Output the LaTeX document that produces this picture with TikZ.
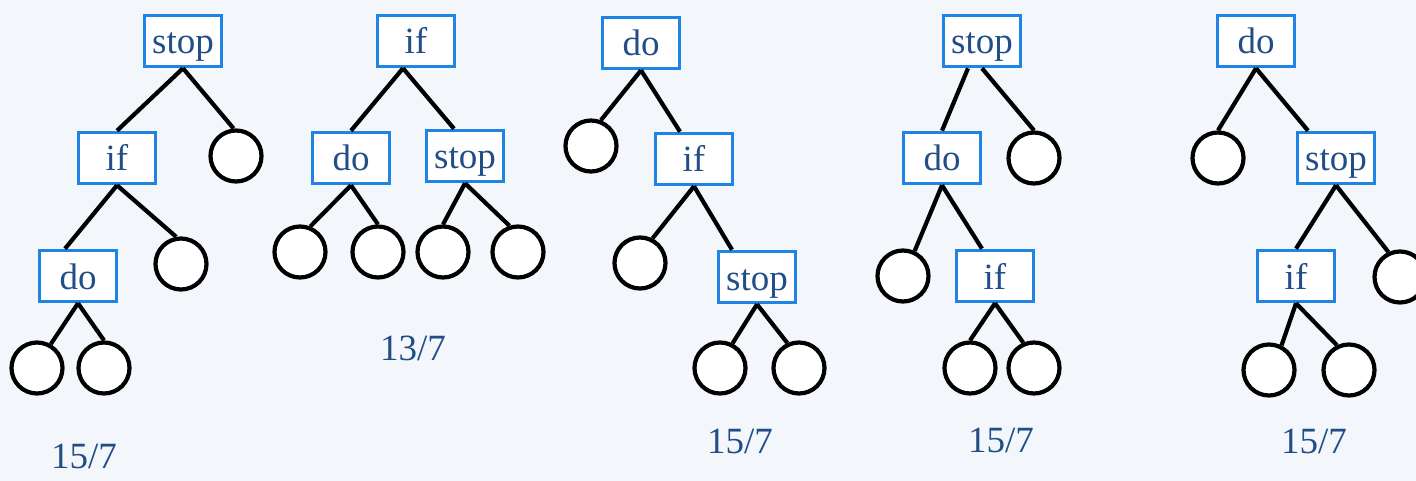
\documentclass[tikz,border=0pt]{standalone}
\usepackage{fontspec}
\setmainfont{Liberation Serif}
\usetikzlibrary{calc}
\definecolor{boxblue}{RGB}{32,132,228}
\definecolor{txtblue}{RGB}{34,78,136}
\definecolor{bgtone}{RGB}{243,246,251}
\begin{document}
\begin{tikzpicture}[x=1pt,y=-1pt,
  opbox/.style={draw=boxblue, line width=3.6pt, fill=white, minimum width=77pt,
    minimum height=51pt, inner sep=0pt, text=txtblue,
    font=\fontsize{37}{40}\selectfont, text height=27pt, text depth=1pt},
  leaf/.style={circle, draw=black, line width=4.2pt, fill=white,
    minimum size=51pt, inner sep=0pt},
  link/.style={draw=black, line width=4.2pt},
  cost/.style={text=txtblue, font=\fontsize{37}{40}\selectfont, inner sep=0pt}]
\fill[bgtone] (0,0) rectangle (1416,481);
\useasboundingbox (0,0) rectangle (1416,481);
\clip (0,0) rectangle (1416,481);

% first tree: stop -> if -> do
\node[opbox] (s1) at (183,41) {stop};
\node[opbox] (i1) at (117,158) {if};
\node[leaf]  (c1a) at (236,156) {};
\node[opbox] (d1) at (78,276) {do};
\node[leaf]  (c1b) at (181,264) {};
\node[leaf]  (c1c) at (37,368) {};
\node[leaf]  (c1d) at (104,368) {};
\node[cost]  (k1) at (84,456) {15/7};
\draw[link] (s1.south) -- (i1.north);
\draw[link] (s1.south) -- (c1a.95);
\draw[link] (i1.south) -- ($(d1.north)+(-13,0)$);
\draw[link] (i1.south) -- (c1b.100);
\draw[link] (d1.south) -- (c1c.60);
\draw[link] (d1.south) -- (c1d.north);

% second tree: if -> do, stop
\node[opbox] (i2) at (416,41) {if};
\node[opbox] (d2) at (351,158) {do};
\node[opbox] (s2) at (465,156) {stop};
\node[leaf]  (c2a) at (300,252) {};
\node[leaf]  (c2b) at (378,252) {};
\node[leaf]  (c2c) at (443,252) {};
\node[leaf]  (c2d) at (518,252) {};
\node[cost]  (k2) at (413,348) {13/7};
\draw[link] ($(i2.south)+(-13,0)$) -- (d2.north);
\draw[link] ($(i2.south)+(-13,0)$) -- ($(s2.north)+(-11,0)$);
\draw[link] (d2.south) -- (c2a.68);
\draw[link] (d2.south) -- (c2b.north);
\draw[link] (s2.south) -- (c2c.north);
\draw[link] (s2.south) -- (c2d.108);

% third tree: do -> if -> stop
\node[opbox] (d3) at (641,43) {do};
\node[leaf]  (c3a) at (591,146) {};
\node[opbox] (i3) at (694,159) {if};
\node[leaf]  (c3b) at (640,263) {};
\node[opbox] (s3) at (757,277) {stop};
\node[leaf]  (c3c) at (720,368) {};
\node[leaf]  (c3d) at (799,368) {};
\node[cost]  (k3) at (740,441) {15/7};
\draw[link] (d3.south) -- (c3a.69);
\draw[link] (d3.south) -- ($(i3.north)+(-14,0)$);
\draw[link] (i3.south) -- (c3b.63);
\draw[link] (i3.south) -- ($(s3.north)+(-25,0)$);
\draw[link] (s3.south) -- (c3c.63);
\draw[link] (s3.south) -- (c3d.115);

% fourth tree: stop -> do -> if
\node[opbox] (s4) at (982,41) {stop};
\node[opbox] (d4) at (942,158) {do};
\node[leaf]  (c4a) at (1034,158) {};
\node[leaf]  (c4b) at (903,276) {};
\node[opbox] (i4) at (995,276) {if};
\node[leaf]  (c4c) at (970,368) {};
\node[leaf]  (c4d) at (1034,368) {};
\node[cost]  (k4) at (1001,440) {15/7};
\draw[link] ($(s4.south)+(-14,0)$) -- (d4.north);
\draw[link] (s4.south) -- (c4a.north);
\draw[link] (d4.south) -- (c4b.65);
\draw[link] (d4.south) -- ($(i4.north)+(-13,0)$);
\draw[link] (i4.south) -- (c4c.north);
\draw[link] (i4.south) -- (c4d.113);

% fifth tree: do -> stop -> if
\node[opbox] (d5) at (1256,41) {do};
\node[leaf]  (c5a) at (1218,158) {};
\node[opbox] (s5) at (1336,158) {stop};
\node[opbox] (i5) at (1296,276) {if};
\node[leaf]  (c5b) at (1400,277) {};
\node[leaf]  (c5c) at (1269,370) {};
\node[leaf]  (c5d) at (1349,370) {};
\node[cost]  (k5) at (1314,441) {15/7};
\draw[link] (d5.south) -- (c5a.north);
\draw[link] (d5.south) -- ($(s5.north)+(-28,0)$);
\draw[link] (s5.south) -- (i5.north);
\draw[link] (s5.south) -- (c5b.115);
\draw[link] (i5.south) -- (c5c.63);
\draw[link] (i5.south) -- (c5d.116);
\end{tikzpicture}
\end{document}
